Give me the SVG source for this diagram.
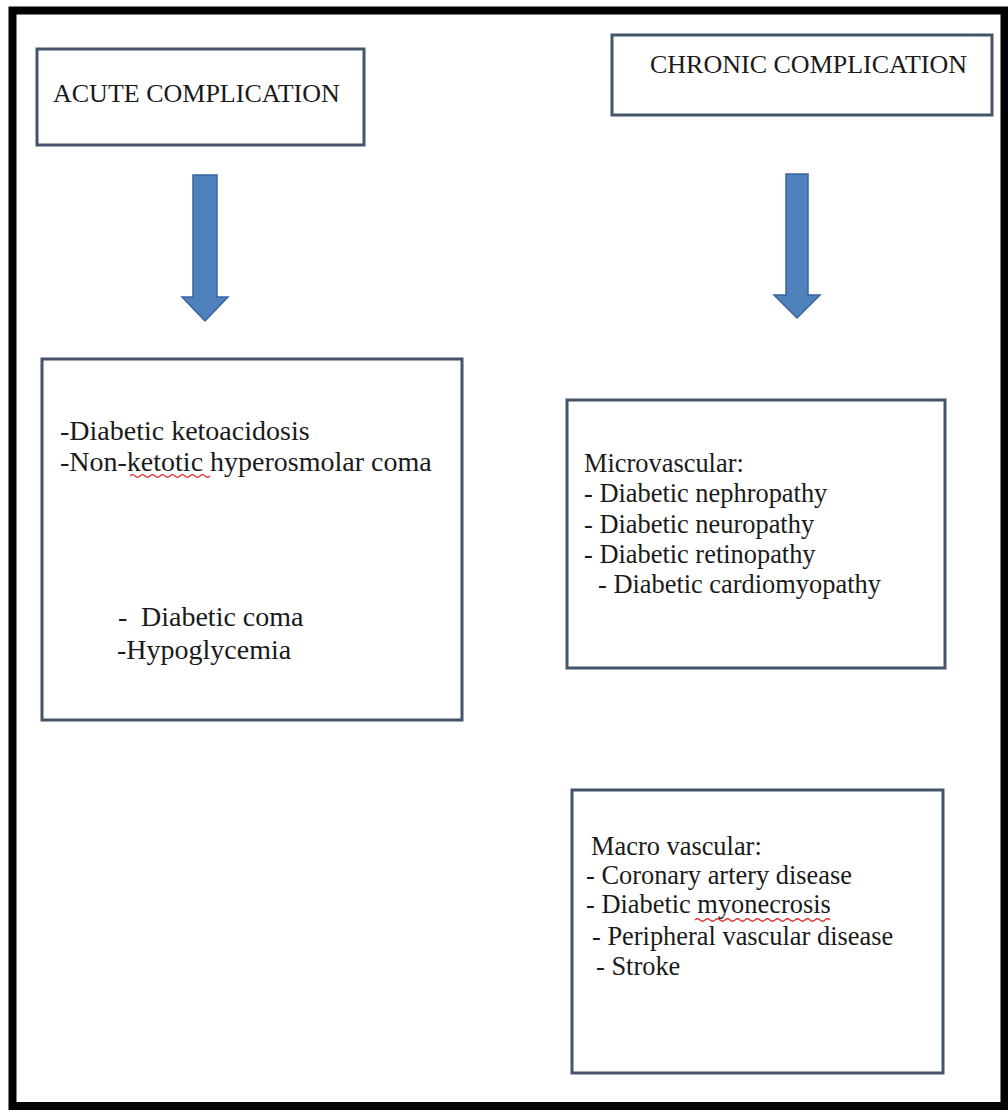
<svg xmlns="http://www.w3.org/2000/svg" width="1008" height="1112" viewBox="0 0 1008 1112">
<style>
.box{fill:#fff;stroke:#44546a;stroke-width:3}
.t{font-family:"Liberation Serif","Times New Roman",serif;fill:#1a1a1a}
.h{font-size:26px}
.a{font-size:28px}
.r{font-size:26.4px}
.arrow{fill:#4f81bd;stroke:#3a64a0;stroke-width:1.5}
.sq{fill:none;stroke:#e03030;stroke-width:1.2}
</style>
<rect x="0" y="0" width="1008" height="1112" fill="#fff"/>
<rect id="frame" x="12.5" y="10.5" width="992" height="1095.5" fill="none" stroke="#000" stroke-width="8"/>
<g id="acute-header">
<rect class="box" x="37" y="49" width="327" height="96"/>
<text class="t h" x="53" y="102">ACUTE COMPLICATION</text>
</g>
<g id="chronic-header">
<rect class="box" x="612" y="35" width="380" height="80"/>
<text class="t h" x="650" y="73">CHRONIC COMPLICATION</text>
</g>
<g id="acute-list">
<rect class="box" x="42" y="359" width="420" height="361"/>
<text class="t a" x="60" y="440">-Diabetic ketoacidosis</text>
<text class="t a" x="60" y="471">-Non-ketotic hyperosmolar coma</text>
<path class="sq" d="M130 476 q2.5 -2.5 5 0 t5 0 t5 0 t5 0 t5 0 t5 0 t5 0 t5 0 t5 0 t5 0 t5 0 t5 0 t5 0 t5 0 t5 0 t5 0"/>
<text class="t a" x="118" y="626">-<tspan x="141">Diabetic coma</tspan></text>
<text class="t a" x="117" y="659">-Hypoglycemia</text>
</g>
<g id="microvascular">
<rect class="box" x="567" y="400" width="378" height="268"/>
<text class="t r" x="584" y="472">Microvascular:</text>
<text class="t r" x="584" y="502">- Diabetic nephropathy</text>
<text class="t r" x="584" y="533">- Diabetic neuropathy</text>
<text class="t r" x="584" y="563">- Diabetic retinopathy</text>
<text class="t r" x="598" y="593">- Diabetic cardiomyopathy</text>
</g>
<g id="macrovascular">
<rect class="box" x="572" y="790" width="371" height="283"/>
<text class="t r" x="591" y="855">Macro vascular:</text>
<text class="t r" x="586" y="884">- Coronary artery disease</text>
<text class="t r" x="586" y="913">- Diabetic myonecrosis</text>
<path class="sq" d="M695 920 q2.5 -2.5 5 0 t5 0 t5 0 t5 0 t5 0 t5 0 t5 0 t5 0 t5 0 t5 0 t5 0 t5 0 t5 0 t5 0 t5 0 t5 0 t5 0 t5 0 t5 0 t5 0 t5 0 t5 0 t5 0 t5 0 t5 0 t5 0 t5 0"/>
<text class="t r" x="592" y="945">- Peripheral vascular disease</text>
<text class="t r" x="596" y="975">- Stroke</text>
</g>
<g id="connectors">
<path class="arrow" d="M193 175 H217 V297 H228 L205 321 L182 297 H193 Z"/>
<path class="arrow" d="M786 174 H808 V295 H820 L797 318 L774 295 H786 Z"/>
</g>
</svg>
